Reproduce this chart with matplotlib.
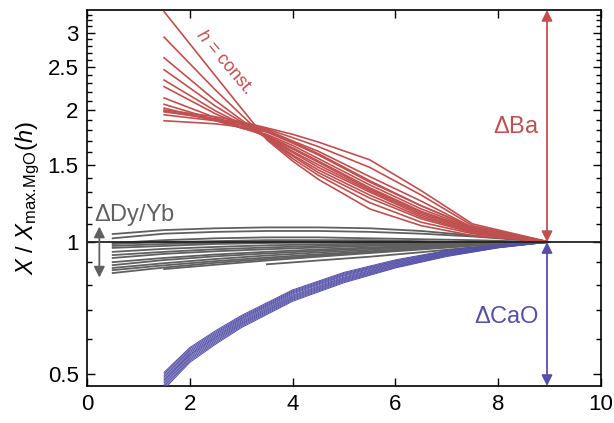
import numpy as np
import matplotlib
matplotlib.use("Agg")
import matplotlib.pyplot as plt
from matplotlib.ticker import FixedLocator, NullFormatter, NullLocator

plt.rcParams["font.family"] = ["Liberation Sans", "DejaVu Sans"]
plt.rcParams["mathtext.fontset"] = "custom"
plt.rcParams["mathtext.rm"] = "Liberation Sans"
plt.rcParams["mathtext.it"] = "Liberation Sans:italic"

# Ba curves (normalised to the MgO maximum at each h)
x_ba = [1.5, 2.5, 3.0, 3.5, 4.0, 4.5, 5.5, 6.5, 7.5, 9.0]
ba_curves = [
    [3.35, 2.39, 2.02, 1.71, 1.53, 1.39, 1.19, 1.09, 1.035, 1.0],
    [2.93, 2.22, 1.95, 1.72, 1.55, 1.42, 1.23, 1.11, 1.045, 1.0],
    [2.63, 2.10, 1.90, 1.72, 1.57, 1.44, 1.26, 1.13, 1.050, 1.0],
    [2.47, 2.04, 1.88, 1.73, 1.58, 1.46, 1.28, 1.14, 1.055, 1.0],
    [2.34, 1.99, 1.86, 1.73, 1.60, 1.48, 1.30, 1.15, 1.060, 1.0],
    [2.26, 1.96, 1.85, 1.74, 1.61, 1.50, 1.31, 1.16, 1.065, 1.0],
    [2.13, 1.92, 1.83, 1.74, 1.63, 1.52, 1.32, 1.17, 1.070, 1.0],
    [2.06, 1.90, 1.82, 1.75, 1.64, 1.53, 1.33, 1.175, 1.070, 1.0],
    [2.02, 1.89, 1.82, 1.76, 1.66, 1.55, 1.35, 1.19, 1.075, 1.0],
    [2.00, 1.93, 1.88, 1.82, 1.76, 1.69, 1.54, 1.31, 1.10, 1.0],
    [1.98, 1.91, 1.87, 1.81, 1.73, 1.65, 1.48, 1.28, 1.09, 1.0],
    [1.95, 1.89, 1.86, 1.80, 1.70, 1.61, 1.41, 1.24, 1.08, 1.0],
    [1.99, 1.90, 1.85, 1.79, 1.69, 1.59, 1.38, 1.21, 1.08, 1.0],
    [1.89, 1.86, 1.83, 1.78, 1.68, 1.58, 1.37, 1.21, 1.08, 1.0],
]

# Dy/Yb curves
x_dy = [0.5, 1.5, 2.5, 3.5, 4.5, 5.5, 6.5, 7.5, 9.0]
nan = np.nan
dy_curves = [
    [1.043, 1.065, 1.075, 1.080, 1.080, 1.075, 1.060, 1.035, 1.0],
    [1.020, 1.045, 1.055, 1.060, 1.060, 1.055, 1.045, 1.030, 1.0],
    [0.995, 1.010, 1.020, 1.025, 1.025, 1.020, 1.015, 1.010, 1.0],
    [0.990, 1.000, 1.005, 1.010, 1.010, 1.010, 1.005, 1.000, 1.0],
    [0.980, 0.990, 0.995, 1.000, 1.000, 1.000, 1.000, 1.000, 1.0],
    [0.970, 0.980, 0.990, 0.995, 0.997, 0.998, 0.999, 1.000, 1.0],
    [0.950, 0.965, 0.975, 0.983, 0.988, 0.992, 0.995, 0.998, 1.0],
    [0.934, 0.950, 0.963, 0.972, 0.980, 0.986, 0.991, 0.996, 1.0],
    [0.920, 0.940, 0.953, 0.963, 0.972, 0.980, 0.987, 0.994, 1.0],
    [0.900, 0.920, 0.937, 0.950, 0.962, 0.972, 0.982, 0.991, 1.0],
    [0.886, 0.910, 0.928, 0.942, 0.955, 0.967, 0.978, 0.989, 1.0],
    [0.873, 0.895, 0.915, 0.932, 0.947, 0.960, 0.973, 0.987, 1.0],
    [0.863, 0.885, 0.905, 0.922, 0.938, 0.953, 0.968, 0.984, 1.0],
    [0.850, 0.875, 0.897, 0.915, 0.932, 0.948, 0.965, 0.983, 1.0],
    [nan, 0.868, 0.888, 0.908, 0.926, 0.944, 0.962, 0.981, 1.0],
    [nan, nan, nan, 0.890, 0.908, 0.926, 0.948, 0.973, 1.0],
]

# CaO curves
x_cao = [1.5, 2.0, 2.5, 3.0, 4.0, 5.0, 6.0, 7.0, 8.0, 9.0]
cao_curves = [
    [0.505, 0.575, 0.628, 0.680, 0.778, 0.853, 0.911, 0.957, 0.985, 1.0],
    [0.501, 0.571, 0.624, 0.676, 0.774, 0.849, 0.907, 0.954, 0.984, 1.0],
    [0.497, 0.567, 0.620, 0.672, 0.770, 0.845, 0.904, 0.952, 0.982, 1.0],
    [0.493, 0.563, 0.616, 0.669, 0.766, 0.841, 0.900, 0.949, 0.981, 1.0],
    [0.489, 0.559, 0.612, 0.665, 0.762, 0.837, 0.897, 0.946, 0.979, 1.0],
    [0.485, 0.555, 0.608, 0.661, 0.757, 0.832, 0.893, 0.943, 0.978, 1.0],
    [0.482, 0.552, 0.605, 0.657, 0.753, 0.828, 0.890, 0.941, 0.977, 1.0],
    [0.478, 0.548, 0.601, 0.653, 0.749, 0.824, 0.886, 0.938, 0.975, 1.0],
    [0.474, 0.544, 0.597, 0.650, 0.745, 0.820, 0.883, 0.935, 0.974, 1.0],
    [0.470, 0.540, 0.593, 0.646, 0.741, 0.816, 0.879, 0.933, 0.972, 1.0],
    [0.466, 0.536, 0.589, 0.642, 0.737, 0.812, 0.876, 0.930, 0.971, 1.0],
    [0.462, 0.532, 0.585, 0.638, 0.733, 0.808, 0.873, 0.927, 0.970, 1.0],
]

red = "#c0504f"
blue = "#5450a8"
grey = "#606060"

fig = plt.figure(figsize=(6.14, 4.23), dpi=100)
ax = fig.add_axes([0.1417, 0.0875, 0.8371, 0.889])

for ys in dy_curves:
    ax.plot(x_dy, ys, color=grey, lw=1.3, zorder=2)
for ys in cao_curves:
    ax.plot(x_cao, ys, color=blue, lw=0.7, zorder=3)
for ys in ba_curves:
    ax.plot(x_ba, ys, color=red, lw=1.2, zorder=3)

ax.axhline(1.0, color="#222222", lw=1.3, zorder=4)

ax.set_yscale("log")
ax.set_xlim(0, 10)
ax.set_ylim(0.47, 3.38)

ax.xaxis.set_major_locator(FixedLocator([0, 2, 4, 6, 8, 10]))
ax.xaxis.set_minor_locator(NullLocator())
ax.yaxis.set_major_locator(FixedLocator([0.5, 1, 1.5, 2, 2.5, 3]))
ax.yaxis.set_minor_locator(FixedLocator(np.arange(0.5, 3.35, 0.1)))
ax.yaxis.set_minor_formatter(NullFormatter())
ax.set_yticklabels(["0.5", "1", "1.5", "2", "2.5", "3"])

ax.tick_params(which="both", direction="in", top=True, right=True, labelsize=16, width=1.0)
ax.tick_params(which="major", length=6, pad=6)
ax.tick_params(which="minor", length=3.5)
for s in ax.spines.values():
    s.set_linewidth(1.2)

ax.set_ylabel(r"$\mathit{X}\ /\ \mathit{X}_{\mathrm{max.\!MgO}}(\mathit{h})$", fontsize=17, labelpad=4)

# range arrows
arr = dict(arrowstyle="<|-|>", mutation_scale=16, lw=1.3, shrinkA=0, shrinkB=0)
ax.annotate("", xy=(8.95, 3.38), xytext=(8.95, 1.0), arrowprops=dict(arr, color=red), zorder=5)
ax.annotate("", xy=(8.95, 0.47), xytext=(8.95, 1.0), arrowprops=dict(arr, color=blue), zorder=5)
ax.annotate("", xy=(0.24, 1.085), xytext=(0.24, 0.83), arrowprops=dict(arr, color=grey), zorder=5)

ax.text(8.8, 1.83, r"$\Delta$Ba", color=red, fontsize=17, ha="right", va="center")
ax.text(8.8, 0.674, r"$\Delta$CaO", color=blue, fontsize=17, ha="right", va="center")
ax.text(0.13, 1.15, r"$\Delta$Dy/Yb", color=grey, fontsize=17, ha="left", va="center")
ax.text(2.68, 2.57, r"$\mathit{h}$ = const.", color=red, fontsize=13, rotation=-50,
        ha="center", va="center", rotation_mode="anchor")

fig.savefig("out.png", dpi=100)
